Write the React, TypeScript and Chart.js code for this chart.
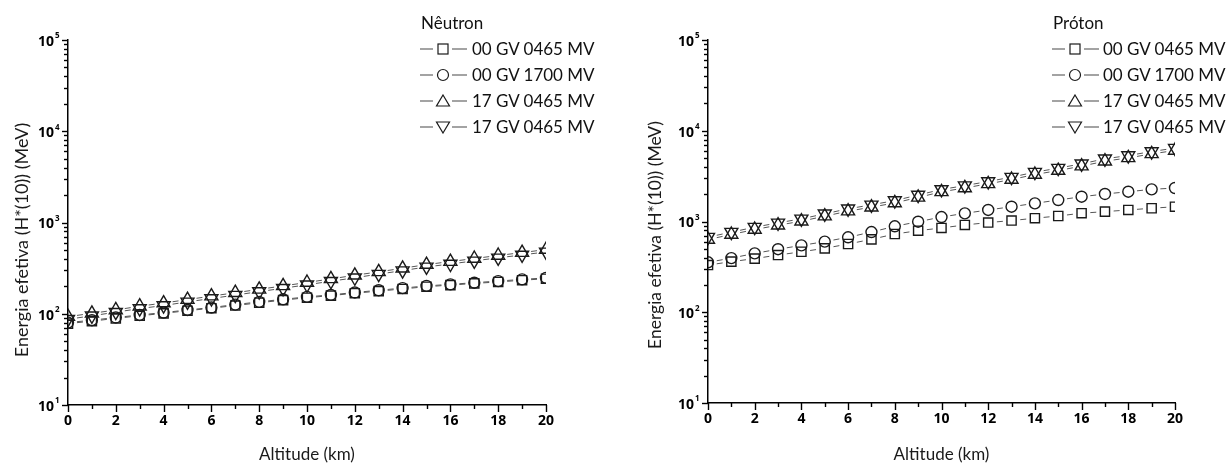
import React, { useEffect, useRef } from 'react';
import { Chart, registerables } from 'chart.js';

Chart.register(...registerables);

// Altitude grid (km)
const altitudes = [0, 1, 2, 3, 4, 5, 6, 7, 8, 9, 10, 11, 12, 13, 14, 15, 16, 17, 18, 19, 20];

const seriesLabels = ['00 GV 0465 MV', '00 GV 1700 MV', '17 GV 0465 MV', '17 GV 0465 MV'];

// Neutron effective energy (MeV)
const neutron00GV0465 = [78, 83, 89, 95, 101, 108, 115, 123, 132, 141, 150, 158, 168, 177, 187, 198, 206, 215, 223, 233, 242];
const neutron00GV1700 = [80, 85, 91, 97, 103, 110, 117, 126, 135, 144, 153, 161, 171, 181, 191, 202, 210, 219, 228, 238, 247];
const neutron17GV0465a = [93, 101, 110, 121, 131, 143, 156, 170, 185, 202, 220, 241, 264, 288, 315, 346, 373, 403, 435, 468, 505];
const neutron17GV0465b = [87, 95, 104, 114, 123, 135, 147, 160, 175, 190, 208, 227, 248, 272, 297, 326, 351, 380, 410, 441, 476];

// Proton effective energy (MeV)
const proton00GV0465 = [331, 361, 390, 427, 464, 506, 565, 636, 728, 792, 849, 916, 973, 1024, 1087, 1150, 1234, 1285, 1340, 1400, 1455];
const proton00GV1700 = [355, 395, 445, 495, 545, 600, 670, 765, 885, 995, 1120, 1230, 1340, 1455, 1585, 1725, 1875, 2010, 2130, 2260, 2340];
const proton17GV0465a = [633, 719, 816, 910, 1008, 1145, 1300, 1438, 1602, 1843, 2122, 2343, 2600, 2902, 3294, 3645, 4072, 4621, 5021, 5556, 6064];
const proton17GV0465b = [673, 763, 866, 966, 1070, 1215, 1380, 1526, 1702, 1957, 2254, 2487, 2760, 3082, 3498, 3871, 4324, 4907, 5331, 5900, 6440];

const yDecades = [10, 100, 1000, 10000, 100000];
const xTicks = altitudes;

const FONT = 'Lato, "Open Sans", sans-serif';
const TICK_FONT = '"Open Sans", Lato, sans-serif';
const MARK = '#1a1a1a';
const LINK = '#555555';

const markerStyles = [
  { pointStyle: 'rect', radius: 6.5, rotation: 0 },
  { pointStyle: 'circle', radius: 5.5, rotation: 0 },
  { pointStyle: 'triangle', radius: 7.5, rotation: 0 },
  { pointStyle: 'triangle', radius: 7.5, rotation: 180 },
];

// Draws short link strokes between neighbouring markers, the tick marks,
// the power-of-ten labels and the rotated y title.
const panelDecor = {
  id: 'panelDecor',
  beforeDatasetsDraw(chart: any) {
    const { ctx, chartArea } = chart;
    ctx.save();
    ctx.beginPath();
    ctx.rect(chartArea.left, chartArea.top, chartArea.right - chartArea.left, chartArea.bottom - chartArea.top);
    ctx.clip();
    ctx.strokeStyle = LINK;
    ctx.lineWidth = 1;
    chart.data.datasets.forEach((_: any, i: number) => {
      const pts = chart.getDatasetMeta(i).data;
      for (let k = 0; k < pts.length - 1; k++) {
        const a = pts[k];
        const b = pts[k + 1];
        const dx = b.x - a.x;
        const dy = b.y - a.y;
        const len = Math.hypot(dx, dy) || 1;
        const ux = dx / len;
        const uy = dy / len;
        const mx = (a.x + b.x) / 2;
        const my = (a.y + b.y) / 2;
        const h = 3;
        ctx.beginPath();
        ctx.moveTo(mx - ux * h, my - uy * h);
        ctx.lineTo(mx + ux * h, my + uy * h);
        ctx.stroke();
      }
    });
    ctx.restore();
  },
  afterDraw(chart: any, _args: any, opts: any) {
    const { ctx, chartArea } = chart;
    const xs = chart.scales.x;
    const ys = chart.scales.y;
    ctx.save();
    ctx.strokeStyle = '#000';
    ctx.lineWidth = 1.4;
    // y ticks: decades long, in-between values short
    for (let d = 0; d < yDecades.length; d++) {
      const base = yDecades[d];
      for (let m = 1; m <= 9; m++) {
        const v = base * m;
        if (v > yDecades[yDecades.length - 1]) break;
        const py = Math.round(ys.getPixelForValue(v)) + 0.5;
        const len = m === 1 ? 6 : 4;
        ctx.beginPath();
        ctx.moveTo(chartArea.left - len, py);
        ctx.lineTo(chartArea.left, py);
        ctx.stroke();
      }
    }
    // x ticks: even values long, odd values short
    xTicks.forEach((v) => {
      const px = Math.round(xs.getPixelForValue(v)) + 0.5;
      const len = v % 2 === 0 ? 7 : 4;
      ctx.beginPath();
      ctx.moveTo(px, chartArea.bottom);
      ctx.lineTo(px, chartArea.bottom + len);
      ctx.stroke();
    });
    // power-of-ten labels
    ctx.fillStyle = '#000';
    yDecades.forEach((v) => {
      const py = ys.getPixelForValue(v);
      const exp = String(Math.round(Math.log10(v)));
      ctx.font = `bold 14px ${TICK_FONT}`;
      ctx.textAlign = 'right';
      ctx.textBaseline = 'middle';
      ctx.fillText('10', chartArea.left - 14, py + 2);
      ctx.font = `bold 8px ${TICK_FONT}`;
      ctx.textAlign = 'left';
      ctx.fillText(exp, chartArea.left - 13, py - 4);
    });
    // y title
    ctx.translate(opts.titleX, opts.titleY);
    ctx.rotate(-Math.PI / 2);
    ctx.font = `${opts.titleSize}px ${FONT}`;
    ctx.fillStyle = '#1a1a1a';
    ctx.textAlign = 'center';
    ctx.textBaseline = 'middle';
    ctx.fillText('Energia efetiva (H*(10)) (MeV)', 0, 0);
    ctx.restore();
  },
};

type PanelProps = {
  name: string;
  series: number[][];
  left: number;
  yAxisWidth: number;
  padRight: number;
  xAxisHeight: number;
  titleX: number;
  titleY: number;
  titleSize: number;
  legendLeft: number;
  legendText: number;
};

function LegendSymbol({ index }: { index: number }) {
  const cx = 23;
  const cy = 7;
  let mark: React.ReactNode = null;
  if (index === 0) mark = <rect x={cx - 5} y={cy - 5} width={10} height={10} fill="none" stroke={MARK} strokeWidth={1.2} />;
  if (index === 1) mark = <circle cx={cx} cy={cy} r={5.5} fill="none" stroke={MARK} strokeWidth={1.2} />;
  if (index === 2) mark = <polygon points={`${cx},${cy - 6} ${cx + 6.5},${cy + 5} ${cx - 6.5},${cy + 5}`} fill="none" stroke={MARK} strokeWidth={1.2} />;
  if (index === 3) mark = <polygon points={`${cx},${cy + 6} ${cx + 6.5},${cy - 5} ${cx - 6.5},${cy - 5}`} fill="none" stroke={MARK} strokeWidth={1.2} />;
  return (
    <svg width={48} height={14} style={{ position: 'absolute', left: 0, top: 0 }}>
      <line x1={0} y1={cy} x2={13} y2={cy} stroke="#666" strokeWidth={1.2} />
      {mark}
      <line x1={32} y1={cy} x2={47} y2={cy} stroke="#666" strokeWidth={1.2} />
    </svg>
  );
}

function Panel(p: PanelProps) {
  const ref = useRef<HTMLCanvasElement | null>(null);
  useEffect(() => {
    if (!ref.current) return;
    const datasets = p.series.map((vals, i) => ({
      label: seriesLabels[i],
      data: altitudes.map((x, k) => ({ x, y: vals[k] })),
      showLine: false,
      pointStyle: markerStyles[i].pointStyle,
      pointRadius: markerStyles[i].radius,
      pointRotation: markerStyles[i].rotation,
      pointBorderColor: MARK,
      pointBackgroundColor: 'rgba(255,255,255,0)',
      pointBorderWidth: 1.4,
      clip: 0,
    }));
    const chart = new Chart(ref.current, {
      type: 'scatter',
      data: { datasets },
      plugins: [panelDecor],
      options: {
        animation: false,
        responsive: false,
        layout: { padding: { left: 0, top: 40, right: p.padRight, bottom: 0 } },
        plugins: {
          legend: { display: false },
          tooltip: { enabled: false },
          panelDecor: { titleX: p.titleX, titleY: p.titleY, titleSize: p.titleSize },
        } as any,
        scales: {
          x: {
            type: 'linear',
            min: 0,
            max: 20,
            grid: { display: false, drawTicks: false },
            border: { display: true, color: '#000', width: 1.5 },
            ticks: {
              stepSize: 1,
              autoSkip: false,
              maxRotation: 0,
              padding: 8,
              color: '#000',
              font: { family: TICK_FONT, size: 14, weight: 'bold' },
              callback: (v: any) => (Number(v) % 2 === 0 ? String(v) : ''),
            },
            title: {
              display: true,
              text: 'Altitude (km)',
              color: '#1a1a1a',
              font: { family: FONT, size: 17 },
              padding: { top: 0, bottom: 1 },
            },
            afterFit: (s: any) => {
              s.height = p.xAxisHeight;
            },
          },
          y: {
            type: 'logarithmic',
            min: 10,
            max: 100000,
            grid: { display: false, drawTicks: false },
            border: { display: true, color: '#000', width: 1.5 },
            ticks: { display: false },
            afterFit: (s: any) => {
              s.width = p.yAxisWidth;
            },
          },
        },
      } as any,
    });
    return () => chart.destroy();
  }, []);

  const rows = [49, 75, 101, 127];
  return (
    <div style={{ position: 'absolute', left: p.left, top: 0, width: 613, height: 466 }}>
      <canvas ref={ref} width={613} height={466} style={{ display: 'block' }} />
      <div
        style={{
          position: 'absolute',
          left: p.legendLeft + 1,
          top: 23 - 11,
          fontFamily: FONT,
          fontSize: 17,
          lineHeight: '22px',
          color: '#111',
          whiteSpace: 'nowrap',
        }}
      >
        {p.name}
      </div>
      {seriesLabels.map((lab, i) => (
        <div key={i} style={{ position: 'absolute', left: p.legendLeft, top: rows[i] - 7, height: 14, width: 200 }}>
          <LegendSymbol index={i} />
          <div
            style={{
              position: 'absolute',
              left: p.legendText,
              top: -4,
              fontFamily: FONT,
              fontSize: 17,
              lineHeight: '22px',
              color: '#111',
              whiteSpace: 'nowrap',
            }}
          >
            {lab}
          </div>
        </div>
      ))}
    </div>
  );
}

export default function App() {
  return (
    <div style={{ position: 'absolute', left: 0, top: 0, width: 1226, height: 466, background: '#fff', overflow: 'hidden' }}>
      <Panel
        name="Nêutron"
        series={[neutron00GV0465, neutron00GV1700, neutron17GV0465a, neutron17GV0465b]}
        left={0}
        yAxisWidth={68}
        padRight={67}
        xAxisHeight={61}
        titleX={22}
        titleY={240}
        titleSize={18}
        legendLeft={420}
        legendText={52}
      />
      <Panel
        name="Próton"
        series={[proton00GV0465, proton00GV1700, proton17GV0465a, proton17GV0465b]}
        left={613}
        yAxisWidth={95}
        padRight={51}
        xAxisHeight={63}
        titleX={42}
        titleY={235}
        titleSize={17.5}
        legendLeft={439}
        legendText={51}
      />
    </div>
  );
}
